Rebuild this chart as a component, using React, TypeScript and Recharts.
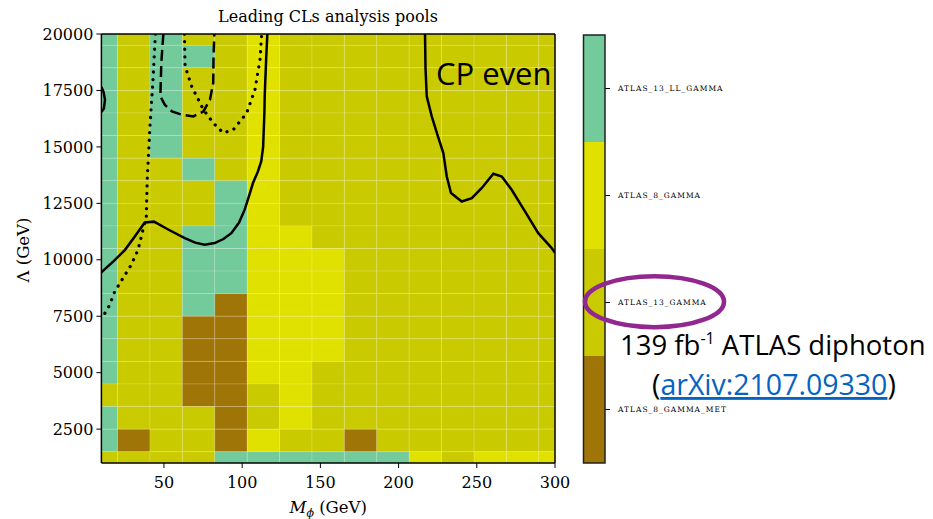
import React from 'react';
import {
  ComposedChart,
  XAxis,
  YAxis,
  ReferenceArea,
  ReferenceLine,
  Scatter,
  Label,
  BarChart,
  Bar,
} from 'recharts';

// Mass points (GeV) – columns of the scan grid
const MASSES = [10, 30.7, 51.4, 72.1, 92.9, 113.6, 134.3, 155, 175.7, 196.4, 217.1, 237.9, 258.6, 279.3, 300];
// Lambda points (GeV) – rows of the scan grid
const LAMBDAS = [1000, 2000, 3000, 4000, 5000, 6000, 7000, 8000, 9000, 10000, 11000, 12000, 13000, 14000, 15000, 16000, 17000, 18000, 19000, 20000];

// Leading pool per cell; rows listed from Lambda = 20000 (top) down to 1000 (bottom)
// T = ATLAS_13_LL_GAMMA, Y = ATLAS_8_GAMMA, O = ATLAS_13_GAMMA, B = ATLAS_8_GAMMA_MET
const POOL_ROWS = [
  'TOTOOYOOOOOOOOO', // 20000
  'TOTTOYOOOOOOOOO', // 19000
  'TOTOOYOOOOOOOOO', // 18000
  'TOTOOYOOOOOOOOO', // 17000
  'TOTOOYOOOOOOOOO', // 16000
  'TOTOOYOOOOOOOOO', // 15000
  'TOOTOYOOOOOOOOO', // 14000
  'TOOOTYOOOOOOOOO', // 13000
  'TOOOTYOOOOOOOOO', // 12000
  'TOOTTYYOOOOOOOO', // 11000
  'TOOTTYYYOOOOOOO', // 10000
  'TOOTTYYYOOOOOOO', // 9000
  'TOOTBYYYOOOOOOO', // 8000
  'TOOBBYYYOOOOOOO', // 7000
  'TOOBBYYYOOOOOOO', // 6000
  'TOOBBYYOOOOOOOO', // 5000
  'OOOBBOYOOOOOOOO', // 4000
  'TOOOBOYOOOOOOOO', // 3000
  'TBOOBYOOBOOOOOO', // 2000
  'OOOOTTTTTTYOYYY', // 1000
];

const POOL_NAMES = ['ATLAS_8_GAMMA_MET', 'ATLAS_13_GAMMA', 'ATLAS_8_GAMMA', 'ATLAS_13_LL_GAMMA'];
const POOL_CODES = ['B', 'O', 'Y', 'T'];
const POOL_COLORS = ['#A07507', '#CACA00', '#E1E100', '#73CA9B'];

const X_TICKS = [50, 100, 150, 200, 250, 300];
const Y_TICKS = [2500, 5000, 7500, 10000, 12500, 15000, 17500, 20000];

// Exclusion contours
const SOLID_LEFT = [
  { x: 10, y: 9450 }, { x: 18, y: 9950 }, { x: 25.1, y: 10440 }, { x: 31, y: 11000 },
  { x: 37.7, y: 11650 }, { x: 43.6, y: 11690 }, { x: 53, y: 11330 }, { x: 63.3, y: 10960 },
  { x: 70, y: 10760 }, { x: 76, y: 10670 }, { x: 82.4, y: 10740 }, { x: 88, y: 10920 },
  { x: 93.1, y: 11180 }, { x: 98, y: 11650 }, { x: 101.6, y: 12220 }, { x: 104.5, y: 12850 },
  { x: 106.9, y: 13400 }, { x: 110, y: 13900 }, { x: 112.2, y: 14360 }, { x: 113.4, y: 15000 },
  { x: 113.8, y: 15760 }, { x: 114.2, y: 16500 }, { x: 114.4, y: 17240 }, { x: 115.4, y: 19010 },
  { x: 116.1, y: 20000 },
];
const SOLID_RIGHT = [
  { x: 216.9, y: 20000 }, { x: 217.2, y: 18500 }, { x: 218, y: 17240 }, { x: 221.2, y: 16350 },
  { x: 225, y: 15500 }, { x: 228.6, y: 14730 }, { x: 230.8, y: 13690 }, { x: 233.5, y: 12960 },
  { x: 240.4, y: 12580 }, { x: 246.8, y: 12730 }, { x: 253.2, y: 13180 }, { x: 260.6, y: 13810 },
  { x: 266, y: 13690 }, { x: 272.3, y: 13100 }, { x: 280.8, y: 12140 }, { x: 289.3, y: 11180 },
  { x: 297.9, y: 10520 }, { x: 300, y: 10310 },
];
const SOLID_EDGE = [
  { x: 10, y: 17650 }, { x: 11.3, y: 17450 }, { x: 12.3, y: 17090 }, { x: 11.6, y: 16700 }, { x: 10, y: 16550 },
];
const DASHED = [
  { x: 49.6, y: 20000 }, { x: 48.3, y: 18720 }, { x: 47.7, y: 17240 }, { x: 50.5, y: 16870 },
  { x: 55.1, y: 16570 }, { x: 61.3, y: 16430 }, { x: 68.8, y: 16350 }, { x: 75.2, y: 16570 },
  { x: 79.4, y: 17090 }, { x: 81.5, y: 17830 }, { x: 81.7, y: 19010 }, { x: 82.2, y: 20000 },
];
const DOTTED_LEFT = [
  { x: 44.5, y: 20000 }, { x: 43, y: 17980 }, { x: 40.9, y: 15760 }, { x: 39.3, y: 13550 },
  { x: 38.7, y: 11920 }, { x: 35.5, y: 11030 }, { x: 33.4, y: 10440 }, { x: 29.1, y: 9780 },
  { x: 23.8, y: 9190 }, { x: 18.5, y: 8590 }, { x: 15.3, y: 8000 }, { x: 11, y: 7490 }, { x: 10, y: 7340 },
];
const DOTTED_U = [
  { x: 63.1, y: 20000 }, { x: 63.5, y: 18570 }, { x: 67.7, y: 17680 }, { x: 75.2, y: 16650 },
  { x: 81.5, y: 16060 }, { x: 87.9, y: 15620 }, { x: 94.3, y: 15760 }, { x: 102.9, y: 16500 },
  { x: 108.2, y: 17540 }, { x: 111.4, y: 18870 }, { x: 112.5, y: 20000 },
];

const X_MIN = MASSES[0];
const X_MAX = MASSES[MASSES.length - 1];
const Y_MIN = LAMBDAS[0];
const Y_MAX = LAMBDAS[LAMBDAS.length - 1];

function edges(values: number[], i: number): [number, number] {
  const lo = i === 0 ? values[0] : (values[i - 1] + values[i]) / 2;
  const hi = i === values.length - 1 ? values[values.length - 1] : (values[i] + values[i + 1]) / 2;
  return [lo, hi];
}

const CELLS: { x1: number; x2: number; y1: number; y2: number; color: string; key: string }[] = [];
POOL_ROWS.forEach((row, r) => {
  const j = LAMBDAS.length - 1 - r;
  const [y1, y2] = edges(LAMBDAS, j);
  row.split('').forEach((code, k) => {
    const [x1, x2] = edges(MASSES, k);
    CELLS.push({ x1, x2, y1, y2, color: POOL_COLORS[POOL_CODES.indexOf(code)], key: `${j}-${k}` });
  });
});

const COLORBAR_DATA = [{ name: 'pools', p0: 1, p1: 1, p2: 1, p3: 1 }];

const SERIF = "'DejaVu Serif', serif";
const SANS = "'Open Sans', 'Noto Sans', sans-serif";
const noShape = () => <g />;

export default function App() {
  return (
    <div style={{ position: 'absolute', left: 0, top: 0, width: 933, height: 519, background: '#fff' }}>
      <div style={{ position: 'absolute', left: 0, top: 0 }}>
        <ComposedChart
          width={580}
          height={519}
          margin={{ top: 34, right: 25, bottom: 26, left: 41.4 }}
        >
          <XAxis
            dataKey="x"
            type="number"
            domain={[X_MIN, X_MAX]}
            ticks={X_TICKS}
            allowDataOverflow
            height={30}
            tickSize={5}
            tickMargin={9}
            axisLine={{ stroke: '#000', strokeWidth: 1.5 }}
            tickLine={{ stroke: '#000', strokeWidth: 1 }}
            tick={{ fill: '#000', fontSize: 16, fontFamily: SERIF }}
          >
            <Label
              content={(props: any) => {
                const vb = props.viewBox || { x: 101, y: 463, width: 454, height: 30 };
                return (
                  <text
                    x={vb.x + vb.width / 2}
                    y={513}
                    textAnchor="middle"
                    fontFamily={SERIF}
                    fontSize={16.5}
                    fill="#000"
                  >
                    <tspan fontStyle="italic">M</tspan>
                    <tspan fontStyle="italic" fontSize={11} dy={4}>ϕ</tspan>
                    <tspan dy={-4}> (GeV)</tspan>
                  </text>
                );
              }}
            />
          </XAxis>
          <YAxis
            dataKey="y"
            type="number"
            domain={[Y_MIN, Y_MAX]}
            ticks={Y_TICKS}
            allowDataOverflow
            width={60}
            tickSize={5}
            tickMargin={3}
            axisLine={{ stroke: '#000', strokeWidth: 1.5 }}
            tickLine={{ stroke: '#000', strokeWidth: 1 }}
            tick={{ fill: '#000', fontSize: 16, fontFamily: SERIF }}
          >
            <Label
              content={() => (
                <text
                  x={24}
                  y={250}
                  transform="rotate(-90 24 250)"
                  textAnchor="middle"
                  dominantBaseline="middle"
                  fontFamily={SERIF}
                  fontSize={16.5}
                  fill="#000"
                >
                  Λ (GeV)
                </text>
              )}
            />
          </YAxis>
          {CELLS.map((c) => (
            <ReferenceArea
              key={c.key}
              x1={c.x1}
              x2={c.x2}
              y1={c.y1}
              y2={c.y2}
              fill={c.color}
              fillOpacity={1}
              stroke="rgba(255,255,255,0.2)"
              strokeWidth={0.8}
              ifOverflow="visible"
            />
          ))}
          <Scatter data={SOLID_LEFT} dataKey="y" isAnimationActive={false} shape={noShape}
            line={{ stroke: '#000', strokeWidth: 2.5 }} />
          <Scatter data={SOLID_RIGHT} dataKey="y" isAnimationActive={false} shape={noShape}
            line={{ stroke: '#000', strokeWidth: 2.5 }} />
          <Scatter data={SOLID_EDGE} dataKey="y" isAnimationActive={false} shape={noShape}
            line={{ stroke: '#000', strokeWidth: 2.5 }} />
          <Scatter data={DASHED} dataKey="y" isAnimationActive={false} shape={noShape}
            line={{ stroke: '#000', strokeWidth: 2.5, strokeDasharray: '11 5' }} />
          <Scatter data={DOTTED_LEFT} dataKey="y" isAnimationActive={false} shape={noShape}
            line={{ stroke: '#000', strokeWidth: 3.2, strokeDasharray: '0.1 7.5', strokeLinecap: 'round' } as any} />
          <Scatter data={DOTTED_U} dataKey="y" isAnimationActive={false} shape={noShape}
            line={{ stroke: '#000', strokeWidth: 3.2, strokeDasharray: '0.1 7.5', strokeLinecap: 'round' } as any} />
          <ReferenceLine y={Y_MAX} stroke="#000" strokeWidth={1.5} ifOverflow="visible" />
          <ReferenceLine x={X_MAX} stroke="#000" strokeWidth={1.5} ifOverflow="visible" />
        </ComposedChart>
      </div>

      <div style={{ position: 'absolute', left: 583, top: 35 }}>
        <BarChart
          width={200}
          height={428}
          data={COLORBAR_DATA}
          margin={{ top: 0, right: 0, bottom: 0, left: 0 }}
          barCategoryGap={0}
          barGap={0}
        >
          <XAxis dataKey="name" hide />
          <YAxis
            orientation="right"
            type="number"
            domain={[0, 4]}
            ticks={[0.5, 1.5, 2.5, 3.5]}
            tickFormatter={(v: number) => POOL_NAMES[Math.floor(v)]}
            width={178}
            axisLine={false}
            tickSize={5}
            tickMargin={8}
            tickLine={{ stroke: '#000', strokeWidth: 1 }}
            tick={{ fill: '#000', fontSize: 7.5, fontFamily: SERIF, letterSpacing: 1 }}
          />
          <Bar dataKey="p0" stackId="cb" fill={POOL_COLORS[0]} isAnimationActive={false} />
          <Bar dataKey="p1" stackId="cb" fill={POOL_COLORS[1]} isAnimationActive={false} />
          <Bar dataKey="p2" stackId="cb" fill={POOL_COLORS[2]} isAnimationActive={false} />
          <Bar dataKey="p3" stackId="cb" fill={POOL_COLORS[3]} isAnimationActive={false} />
        </BarChart>
      </div>

      <svg
        width={933}
        height={519}
        style={{ position: 'absolute', left: 0, top: 0, pointerEvents: 'none' }}
      >
        <rect x={583.5} y={35} width={21.5} height={428} fill="none" stroke="#222" strokeWidth={1.5} />
        <text x={328} y={22} textAnchor="middle" fontFamily={SERIF} fontSize={16} fill="#000">
          Leading CLs analysis pools
        </text>
        <text x={436} y={85} fontFamily={SANS} fontSize={31} fill="#000">CP even</text>
        <ellipse cx={654.5} cy={301.7} rx={69.5} ry={25.5} fill="none" stroke="#92278F" strokeWidth={4.5} />
        <text x={620} y={355} fontFamily={SANS} fontSize={27.5} fill="#000">
          139 fb<tspan fontSize={16} dy={-11}>-1</tspan><tspan dy={11}> ATLAS diphoton</tspan>
        </text>
        <text x={652} y={395} fontFamily={SANS} fontSize={28.5} fill="#000">
          (<tspan fill="#0563C1" textDecoration="underline">arXiv:2107.09330</tspan>)
        </text>
      </svg>
    </div>
  );
}
